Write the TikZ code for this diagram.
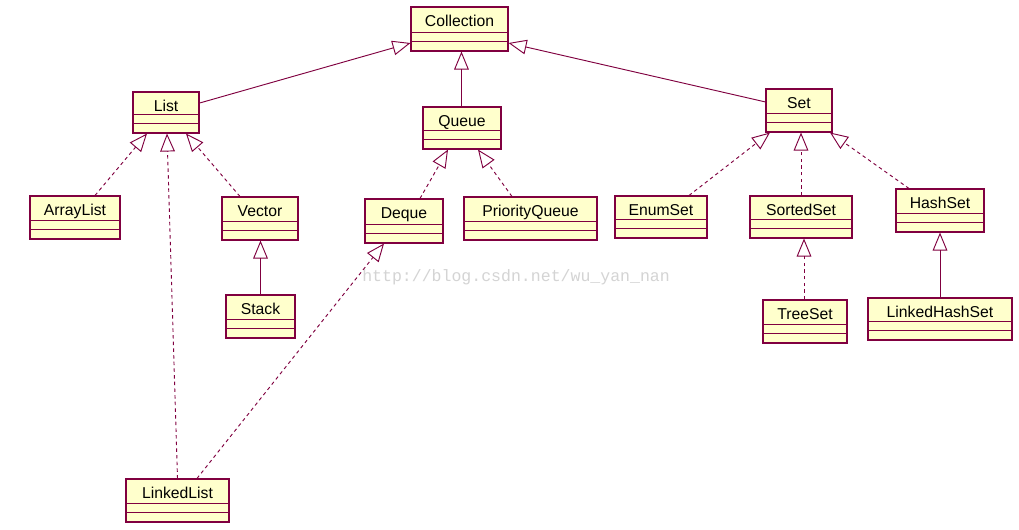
\documentclass[tikz,border=0pt]{standalone}
\usepackage{fontspec}
\setmainfont{Liberation Sans}
\newfontfamily\markfont{Liberation Mono}
\usetikzlibrary{arrows.meta}

\definecolor{umlline}{RGB}{128,0,64}
\definecolor{umlfill}{RGB}{255,255,204}
\definecolor{markgray}{RGB}{212,212,212}

\tikzset{
  classbox/.style={draw=umlline, fill=umlfill, line width=0.8pt, rectangle, inner sep=0pt},
  classname/.style={anchor=base, inner sep=0pt, font=\fontsize{11.8}{14}\selectfont},
  divider/.style={draw=umlline, line width=0.8pt},
  generalize/.style={draw=umlline, line width=0.7pt,
    -{Triangle[open, length=13.5pt, width=11pt, line width=0.7pt]}},
  realize/.style={generalize, dash pattern=on 2.6pt off 2.4pt},
}

% a UML class box: name, left, top, right, bottom (pixel units), title
\newcommand{\umlclass}[6]{%
  \node[classbox, minimum width={(#4-#2)*0.75pt}, minimum height={(#5-#3)*0.75pt}]
    (#1) at ({(#2+#4)/2},{(#3+#5)/2}) {};
  \node[classname] (#1-title) at ([yshift=-14.8pt]#1.north) {#6};
  \draw[divider] ([yshift=14.25pt]#1.south west) -- ([yshift=14.25pt]#1.south east);
  \draw[divider] ([yshift=7.5pt]#1.south west) -- ([yshift=7.5pt]#1.south east);
}

\begin{document}
\begin{tikzpicture}[x=0.75pt, y=-0.75pt]
  \useasboundingbox[fill=white] (0,0) rectangle (1019,529);

  % watermark
  \node[text=markgray, font=\markfont\fontsize{12.4}{14}\selectfont, anchor=base west, inner sep=0pt]
    (mark) at (362,281) {http://blog.csdn.net/wu\_yan\_nan};

  % classes
  \umlclass{Collection}{411}{7}{508}{51}{Collection}
  \umlclass{List}{133}{92}{199}{133}{List}
  \umlclass{Queue}{423}{107}{501}{149}{Queue}
  \umlclass{Set}{766}{89}{832}{132}{Set}
  \umlclass{ArrayList}{30}{196}{120}{239}{ArrayList}
  \umlclass{Vector}{222}{197}{298}{240}{Vector}
  \umlclass{Stack}{226}{295}{295}{338}{Stack}
  \umlclass{Deque}{365}{199}{443}{243}{Deque}
  \umlclass{PriorityQueue}{464}{197}{597}{240}{PriorityQueue}
  \umlclass{EnumSet}{615}{196}{707}{238}{EnumSet}
  \umlclass{SortedSet}{750}{196}{852}{238}{SortedSet}
  \umlclass{HashSet}{896}{189}{984}{232}{HashSet}
  \umlclass{TreeSet}{763}{300}{847}{343}{TreeSet}
  \umlclass{LinkedHashSet}{868}{298}{1012}{340}{LinkedHashSet}
  \umlclass{LinkedList}{126}{479}{229}{522}{LinkedList}

  % inheritance (solid)
  \draw[generalize] ([yshift=7.1pt]List.east) -- ([yshift=-10.5pt]Collection.west);
  \draw[generalize] ([yshift=6.4pt]Set.west) -- ([yshift=-10.5pt]Collection.east);
  \draw[generalize] ([xshift=-0.4pt]Queue.north) -- ([xshift=-0.4pt]Queue.north |- Collection.south);
  \draw[generalize] (Stack.north) -- (Stack.north |- Vector.south);
  \draw[generalize] (LinkedHashSet.north) -- (LinkedHashSet.north |- HashSet.south);

  % implementation (dashed)
  \draw[realize] ([xshift=15pt]ArrayList.north) -- ([xshift=-14.25pt]List.south);
  \draw[realize] (LinkedList.north) -- ([xshift=0.75pt]List.south);
  \draw[realize] ([xshift=-15pt]Vector.north) -- ([xshift=15pt]List.south);
  \draw[realize] ([xshift=14.6pt]LinkedList.north) -- ([xshift=-15pt]Deque.south);
  \draw[realize] ([xshift=12pt]Deque.north) -- ([xshift=-10.5pt]Queue.south);
  \draw[realize] ([xshift=-13.9pt]PriorityQueue.north) -- ([xshift=12pt]Queue.south);
  \draw[realize] ([xshift=21pt]EnumSet.north) -- ([xshift=-21.75pt]Set.south);
  \draw[realize] (SortedSet.north) -- (SortedSet.north |- Set.south);
  \draw[realize] ([xshift=-23.25pt]HashSet.north) -- ([xshift=23.25pt]Set.south);
  \draw[realize] ([xshift=-0.75pt]TreeSet.north) -- ([xshift=-0.75pt]TreeSet.north |- SortedSet.south);
\end{tikzpicture}
\end{document}
